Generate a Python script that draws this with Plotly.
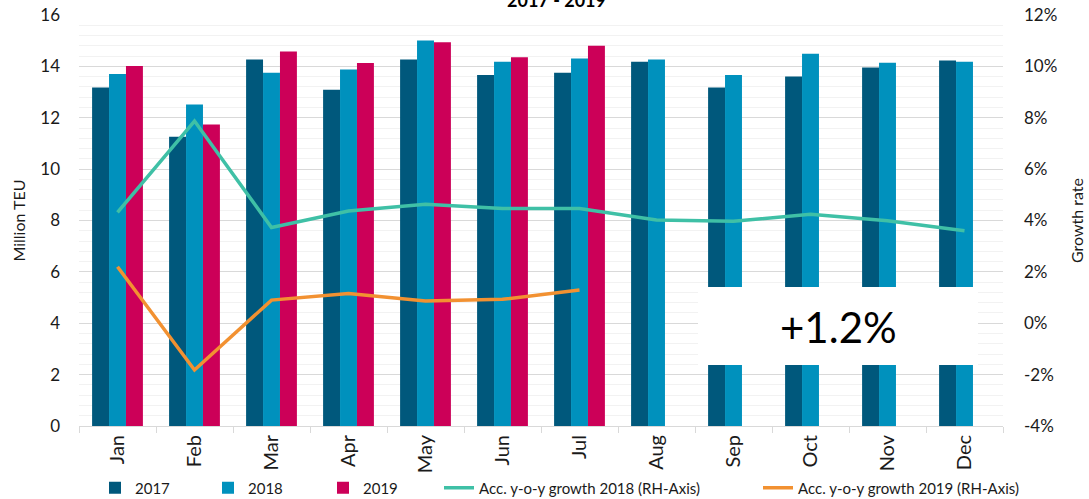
import plotly.graph_objects as go

months = ["Jan", "Feb", "Mar", "Apr", "May", "Jun", "Jul", "Aug", "Sep", "Oct", "Nov", "Dec"]
teu_2017 = [13.18, 11.26, 14.27, 13.09, 14.27, 13.66, 13.75, 14.18, 13.18, 13.61, 13.96, 14.23]
teu_2018 = [13.70, 12.52, 13.75, 13.88, 15.01, 14.18, 14.31, 14.27, 13.66, 14.49, 14.14, 14.18]
teu_2019 = [14.01, 11.74, 14.58, 14.13, 14.94, 14.36, 14.80, None, None, None, None, None]
growth_2018 = [4.32, 7.87, 3.73, 4.37, 4.63, 4.47, 4.47, 4.02, 3.97, 4.24, 3.99, 3.60]
growth_2019 = [2.20, -1.82, 0.90, 1.16, 0.87, 0.93, 1.29, None, None, None, None, None]
y_ticks = [0, 2, 4, 6, 8, 10, 12, 14, 16]
y2_ticks = [-4, -2, 0, 2, 4, 6, 8, 10, 12]
y2_labels = [f"{v}%" for v in y2_ticks]

FONT = "Lato"
W, H = 1089, 499
ML, MR, MT, MB = 79, 86, 15, 73

fig = go.Figure()
bar_specs = [("2017", teu_2017, "#00587C", "legend"),
             ("2018", teu_2018, "#0091BD", "legend2"),
             ("2019", teu_2019, "#CC0058", "legend3")]
for name, vals, col, lg in bar_specs:
    fig.add_trace(go.Bar(x=months, y=vals, name=name, marker_color=col,
                         marker_line_width=0, legend=lg))

fig.add_trace(go.Scatter(x=months, y=growth_2018, name="Acc. y-o-y growth 2018 (RH-Axis)",
                         mode="lines", line=dict(color="#3FC0A6", width=3.5), yaxis="y2",
                         legend="legend4"))
fig.add_trace(go.Scatter(x=months, y=growth_2019, name="Acc. y-o-y growth 2019 (RH-Axis)",
                         mode="lines", line=dict(color="#F29131", width=3.5), yaxis="y2",
                         legend="legend5"))

def leg(text_left_px):
    return dict(orientation="h", xref="container", yref="container",
                x=(text_left_px - 42) / W, xanchor="left",
                y=1 - 488 / H, yanchor="middle",
                font=dict(family=FONT, size=15, color="#1a1a1a"),
                bgcolor="rgba(0,0,0,0)", tracegroupgap=0)

pw = W - ML - MR
ph = H - MT - MB

fig.update_layout(
    width=W, height=H,
    margin=dict(l=ML, r=MR, t=MT, b=MB, autoexpand=False),
    paper_bgcolor="white", plot_bgcolor="white",
    font=dict(family=FONT, size=16, color="#1a1a1a"),
    barmode="group", bargap=0.34, bargroupgap=0,
    showlegend=True,
    legend=leg(137), legend2=leg(250), legend3=leg(365),
    legend4=leg(481), legend5=leg(800),
    xaxis=dict(tickangle=-90, showline=True, linecolor="#d9d9d9", linewidth=1,
               ticks="outside", tickson="boundaries", ticklen=6, tickcolor="#d9d9d9",
               showgrid=False, automargin=False, tickfont=dict(size=20, family=FONT)),
    yaxis=dict(range=[0, 16], tickvals=y_ticks, showgrid=True, gridcolor="#d9d9d9",
               gridwidth=1, zeroline=False, ticklabelstandoff=18, automargin=False,
               minor=dict(dtick=0.4, showgrid=True, gridcolor="#f2f2f2", gridwidth=1),
               title=dict(text="Million TEU", font=dict(size=16, family=FONT), standoff=10),
               tickfont=dict(size=17, family=FONT)),
    yaxis2=dict(range=[-4, 12], tickmode="array", tickvals=y2_ticks, ticktext=y2_labels,
                overlaying="y", side="right", showgrid=False, zeroline=False,
                ticklabelstandoff=20, automargin=False,
                title=dict(text="Growth rate", font=dict(size=16, family=FONT)),
                tickfont=dict(size=17, family=FONT)),
    shapes=[dict(type="rect", xref="paper", yref="paper",
                 x0=(698 - ML) / pw, x1=(978 - ML) / pw,
                 y0=(H - MB - 365) / ph, y1=(H - MB - 287) / ph,
                 fillcolor="white", line=dict(width=0), layer="above")],
    annotations=[
        dict(text="+1.2%", xref="paper", yref="paper",
             x=(838 - ML) / pw, y=(H - MB - 327) / ph, showarrow=False,
             xanchor="center", yanchor="middle",
             font=dict(size=42, family=FONT, color="#000")),
        dict(text="<b>2017 - 2019</b>", xref="paper", yref="paper",
             x=(556 - ML) / pw, y=1 + 2 / ph, yanchor="bottom", xanchor="center",
             showarrow=False, font=dict(size=18, family=FONT, color="#000")),
    ],
)

fig.write_html("out.html", config={"displayModeBar": False},
               post_script="document.body.style.margin='0';document.body.style.overflow='hidden';")
